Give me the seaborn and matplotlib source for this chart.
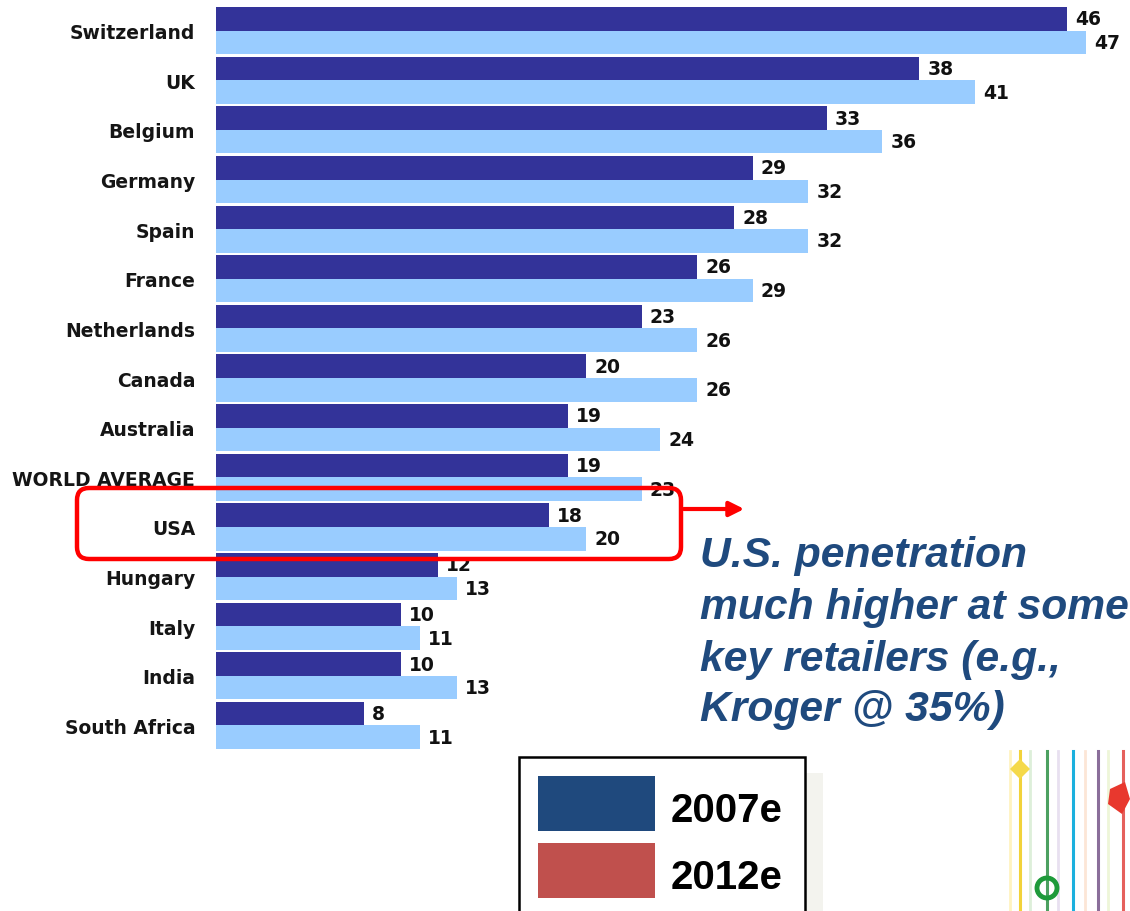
import matplotlib
matplotlib.use("Agg")
import matplotlib.pyplot as plt
import seaborn as sns
import pandas as pd
from matplotlib.patches import FancyBboxPatch, FancyArrowPatch, Rectangle, Circle, Polygon
from matplotlib.lines import Line2D
from matplotlib.transforms import IdentityTransform

countries = ["Switzerland", "UK", "Belgium", "Germany", "Spain", "France", "Netherlands",
             "Canada", "Australia", "WORLD AVERAGE", "USA", "Hungary", "Italy", "India",
             "South Africa"]
values_2007 = [46, 38, 33, 29, 28, 26, 23, 20, 19, 19, 18, 12, 10, 10, 8]
values_2012 = [47, 41, 36, 32, 32, 29, 26, 26, 24, 23, 20, 13, 11, 13, 11]
series_names = ["2007e", "2012e"]
bar_colors = ["#333399", "#99CCFF"]
legend_colors = ["#1F497D", "#C0504D"]
note_lines = ["U.S. penetration", "much higher at some", "key retailers (e.g.,", "Kroger @ 35%)"]

df = pd.DataFrame({
    "country": countries * 2,
    "value": values_2007 + values_2012,
    "year": [series_names[0]] * len(countries) + [series_names[1]] * len(countries),
})

W, H = 1130, 912
fig = plt.figure(figsize=(W / 100, H / 100), dpi=100)
fig.patch.set_facecolor("white")

def fx(px):
    return px / W

def fy(py):
    return 1 - py / H

ax_left, ax_top, ax_bot = 216, 6.8, 751.3
ax = fig.add_axes([fx(ax_left), fy(ax_bot), 1 - fx(ax_left), (ax_bot - ax_top) / H])
sns.barplot(data=df, x="value", y="country", hue="year", palette=bar_colors,
            width=0.95, ax=ax, legend=False, orient="h", linewidth=0, saturation=1)
ax.set_xlim(0, (W - ax_left) / 18.5)
ax.set_ylim(len(countries) - 0.5, -0.5)
for c in ax.containers:
    ax.bar_label(c, fmt="%d", padding=6, fontsize=13.5, fontweight="bold", color="#111111",
                 family="DejaVu Sans")
for s in ax.spines.values():
    s.set_visible(False)
ax.set_xticks([])
ax.set_xlabel("")
ax.set_ylabel("")
ax.tick_params(axis="y", length=0, pad=15)
for lab in ax.get_yticklabels():
    lab.set_fontweight("bold")
    lab.set_fontsize(13.5)
    lab.set_color("#151515")
    lab.set_family("DejaVu Sans")
ax.set_facecolor("none")

ident = IdentityTransform()
def P(x, y):
    return (x, H - y)

# Red rounded box around USA
x0, y0, x1, y1 = 77, 489, 681, 560
box = FancyBboxPatch(P(x0, y1), x1 - x0, y1 - y0, boxstyle="round,pad=0,rounding_size=12",
                     transform=ident, fill=False, edgecolor="#FF0000", linewidth=3.2,
                     figure=fig, zorder=10)
fig.patches.append(box)
arr = FancyArrowPatch(P(681, 510), P(747, 510), transform=ident, arrowstyle="-|>",
                      mutation_scale=22, color="#FF0000", linewidth=3, figure=fig, zorder=10)
fig.patches.append(arr)

# Annotation text
baselines = [567, 619, 671, 721]
for line, b in zip(note_lines, baselines):
    fig.text(fx(700), fy(b), line, fontsize=30.7, fontweight="bold", style="italic",
             color="#1F4A7E", family="Liberation Sans", va="baseline", ha="left")

# Legend box
fig.patches.append(Rectangle(P(805, 912), 18, 912 - 774, transform=ident, facecolor="#F3F3EE",
                             edgecolor="none", figure=fig, zorder=4))
fig.patches.append(Rectangle(P(519, 914), 286, 914 - 758, transform=ident, facecolor="white",
                             edgecolor="black", linewidth=1.8, figure=fig, zorder=5))
for i, (name, col) in enumerate(zip(series_names, legend_colors)):
    top = 777 + i * 67
    fig.patches.append(Rectangle(P(538, top + 55), 117, 55, transform=ident, facecolor=col,
                                 edgecolor="none", figure=fig, zorder=6))
    fig.text(fx(671), fy(top + 45), name, fontsize=29, fontweight="bold", color="black",
             family="Liberation Sans", va="baseline", ha="left", zorder=7)

# Decorative picture fragment at bottom right
pastels = [(1010, "#FFF3C0"), (1030, "#DDEFD9"), (1058, "#E8E0F0"), (1085, "#FCE6D6"),
           (1108, "#EEF6D8")]
for xx, cc in pastels:
    fig.lines.append(Line2D([fx(xx), fx(xx)], [fy(752), 0], transform=fig.transFigure,
                            color=cc, linewidth=2, zorder=3))
deco = [(1020, "#F2D23A"), (1047, "#4CA060"), (1073, "#1BB0DE"), (1098, "#8A6E9A"),
        (1123, "#E5605C")]
for xx, cc in deco:
    fig.lines.append(Line2D([fx(xx), fx(xx)], [fy(752), 0], transform=fig.transFigure,
                            color=cc, linewidth=2.2, zorder=3))
fig.patches.append(Polygon([P(1020, 760), P(1030, 770), P(1020, 780), P(1010, 770)],
                           closed=True, transform=ident, facecolor="#F5D94A",
                           edgecolor="none", figure=fig, zorder=4))
fig.patches.append(Circle(P(1047, 889), 10, transform=ident, facecolor="none",
                          edgecolor="#1E9A3A", linewidth=3.5, figure=fig, zorder=4))
fig.patches.append(Polygon([P(1110, 790), P(1125, 783), P(1130, 800), P(1122, 815), P(1108, 805)],
                           closed=True, transform=ident, facecolor="#E8382E",
                           edgecolor="none", figure=fig, zorder=4))

fig.savefig("out.png", dpi=100, facecolor="white")
